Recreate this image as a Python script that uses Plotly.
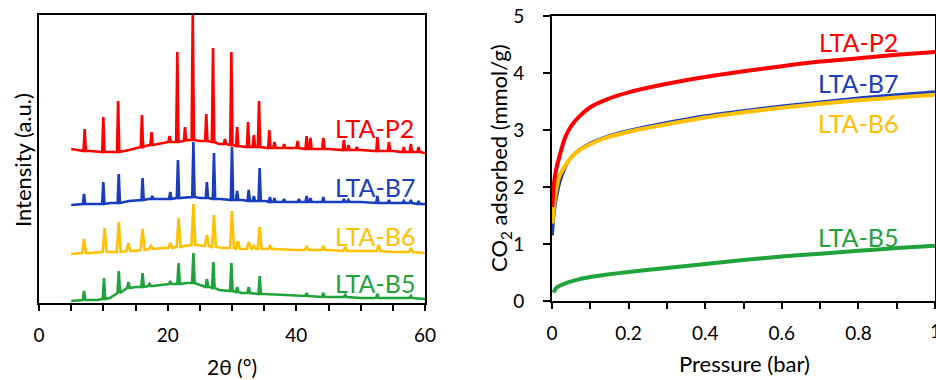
import plotly.graph_objects as go

# ---------------- XRD data (left panel), intensity in arbitrary units ----------------
p2_base_x = [5, 8, 11, 14, 16.5, 18.5, 20, 23, 25, 28, 31, 34, 37, 40, 45, 50, 55, 60]
p2_base_y = [154, 152, 151, 153, 157, 159, 161, 163, 162, 159, 157, 156, 155, 155, 154, 153, 152, 150]
p2_pk_x = [7.1, 10.0, 12.3, 16.0, 17.5, 20.3, 21.5, 22.7, 23.9, 26.0, 27.05, 28.9, 29.9, 30.8, 32.5, 33.4,
           34.2, 35.8, 36.6, 38.1, 40.2, 41.6, 42.2, 44.2, 47.4, 48.1, 49.4, 52.6, 54.4, 56.7, 57.8, 59.0]
p2_pk_top = [174, 186, 202, 188, 171, 167, 251, 176, 292, 189, 255, 164, 251, 176, 181, 168,
             202, 173, 161, 159, 162, 167, 165, 165, 163, 158, 156, 166, 161, 156, 159, 156]
p2_pk_foot = [152, 151, 151, 156, 158, 161, 161, 162, 163, 162, 161, 159, 158, 157, 156, 156,
              156, 155, 155, 155, 155, 154, 154, 154, 153, 153, 153, 152, 152, 151, 151, 151]

b7_base_x = [5, 8, 11, 14, 17, 19, 23, 25, 28.2, 31.7, 35.3, 40, 45, 50, 55, 60]
b7_base_y = [98, 99, 100, 102, 104, 104, 106, 105, 104, 103, 102, 101, 101, 101, 100, 99]
b7_pk_x = [7.0, 10.0, 12.4, 16.1, 17.6, 20.4, 21.6, 24.0, 26.1, 27.2, 30.0, 30.8, 32.6, 33.4, 34.3,
           35.9, 36.6, 38.1, 40.4, 41.6, 42.2, 44.2, 47.4, 48.1, 52.6, 54.4, 56.7, 57.8, 59.0]
b7_pk_top = [109, 121, 129, 125, 107, 111, 143, 161, 121, 150, 156, 112, 113, 107, 135,
             106, 105, 104, 104, 107, 105, 106, 104, 103, 107, 103, 102, 103, 102]
b7_pk_foot = [99, 99, 100, 103, 104, 104, 105, 106, 105, 104, 103, 103, 102, 102, 102,
              101, 101, 101, 101, 101, 101, 101, 101, 101, 100, 100, 100, 100, 99]

b6_base_x = [5, 8, 11, 14.5, 17, 19.5, 22.5, 24.8, 25.5, 28.5, 31.5, 33, 36.5, 40, 45, 50, 55, 60]
b6_base_y = [49, 50, 51, 52, 54, 55, 57, 58, 57, 55, 54, 54, 54, 53, 53, 52, 51, 50]
b6_pk_x = [7.0, 10.2, 12.4, 13.9, 16.1, 17.4, 20.4, 21.7, 24.0, 26.1, 27.2, 30.0, 30.9, 32.6, 33.4,
           34.3, 35.9, 41.6, 44.2, 47.6, 52.8, 57.8]
b6_pk_top = [64, 75, 81, 60, 74, 57, 60, 85, 99, 68, 88, 92, 62, 61, 57, 76, 57, 56, 57, 56, 58, 55]
b6_pk_foot = [50, 51, 51, 52, 53, 54, 55, 56, 58, 57, 56, 55, 54, 54, 54, 54, 54, 53, 53, 52, 52, 51]

b5_base_x = [5, 9, 11, 12.8, 13.5, 15, 17.7, 19, 21, 23, 24.6, 26.6, 28, 31.5, 35, 40, 45, 50, 55, 60]
b5_base_y = [2, 3, 5, 11, 14, 16, 17, 18, 19, 20, 19, 16, 13, 10, 9, 7, 6, 5, 5, 4]
b5_pk_x = [7.0, 10.1, 12.4, 13.9, 16.1, 17.2, 20.4, 21.7, 24.0, 26.1, 27.1, 29.9, 30.8, 32.6, 34.3,
           41.6, 44.2, 47.6, 52.6, 57.8]
b5_pk_top = [12, 25, 32, 21, 30, 19, 22, 40, 50, 24, 41, 40, 16, 16, 27, 10, 10, 8, 9, 7]
b5_pk_foot = [3, 4, 10, 15, 16, 17, 19, 19, 20, 16, 15, 12, 11, 10, 9, 7, 6, 6, 5, 5]

xrd_ticks = [0, 20, 40, 60]
xrd_ticktext = ["0", "20", "40", "60"]

# ---------------- CO2 isotherms (right panel) ----------------
iso_p = [0.001, 0.005, 0.01, 0.02, 0.035, 0.05, 0.07, 0.1, 0.14, 0.2, 0.3, 0.4, 0.5, 0.6, 0.7, 0.8, 0.9, 1.0]
iso_p2 = [1.65, 2.05, 2.28, 2.55, 2.88, 3.07, 3.23, 3.40, 3.53, 3.66, 3.81, 3.93, 4.03, 4.12, 4.20, 4.26, 4.32, 4.37]
iso_b7 = [1.15, 1.50, 1.75, 2.07, 2.35, 2.52, 2.65, 2.77, 2.88, 2.99, 3.13, 3.25, 3.34, 3.42, 3.49, 3.56, 3.62, 3.67]
iso_b6 = [1.36, 1.65, 1.92, 2.20, 2.38, 2.52, 2.64, 2.75, 2.86, 2.97, 3.10, 3.22, 3.31, 3.39, 3.46, 3.52, 3.57, 3.62]
iso_p_b5 = [0.004, 0.013, 0.035, 0.07, 0.1, 0.14, 0.2, 0.3, 0.4, 0.5, 0.6, 0.7, 0.8, 0.9, 1.0]
iso_b5 = [0.15, 0.24, 0.31, 0.38, 0.42, 0.46, 0.51, 0.58, 0.65, 0.72, 0.78, 0.83, 0.88, 0.93, 0.97]

iso_ticks = [0, 0.2, 0.4, 0.6, 0.8]
iso_ticktext = ["0", "0.2", "0.4", "0.6", "0.8"]
iso_last_tick = 1.0
iso_last_text = "1"

RED, BLUE, GOLD, GREEN = "#FF0000", "#1A3CBE", "#FFC000", "#1FA33A"
FONT = "Lato"

W, H = 936, 380
PW = W - 1  # plot width (margin r = 1)


def px_x(p):
    return p / PW


def px_y(p):
    return 1 - p / H


def pattern(bx, by, kx, ktop, kfoot, hw):
    pts = []
    for x, y in zip(bx, by):
        if all(abs(x - k) > hw for k in kx):
            pts.append((x, y))
    for k, t, f in zip(kx, ktop, kfoot):
        pts += [(k - hw, f), (k, t), (k + hw, f)]
    pts.sort(key=lambda q: q[0])
    return [q[0] for q in pts], [q[1] for q in pts]


fig = go.Figure()

for bx, by, kx, kt, kf, col, hw in [
    (b5_base_x, b5_base_y, b5_pk_x, b5_pk_top, b5_pk_foot, GREEN, 0.2),
    (b6_base_x, b6_base_y, b6_pk_x, b6_pk_top, b6_pk_foot, GOLD, 0.3),
    (b7_base_x, b7_base_y, b7_pk_x, b7_pk_top, b7_pk_foot, BLUE, 0.18),
    (p2_base_x, p2_base_y, p2_pk_x, p2_pk_top, p2_pk_foot, RED, 0.18),
]:
    xs, ys = pattern(bx, by, kx, kt, kf, hw)
    fig.add_trace(go.Scatter(x=xs, y=ys, mode="lines", line=dict(color=col, width=2.6),
                             xaxis="x", yaxis="y", showlegend=False, hoverinfo="skip"))

fig.add_trace(go.Scatter(x=iso_p_b5, y=iso_b5, mode="lines", line=dict(color=GREEN, width=4, shape="spline", smoothing=0.8),
                         xaxis="x2", yaxis="y2", showlegend=False))
fig.add_trace(go.Scatter(x=iso_p, y=iso_b7, mode="lines", line=dict(color=BLUE, width=3, shape="spline", smoothing=0.8),
                         xaxis="x2", yaxis="y2", showlegend=False))
fig.add_trace(go.Scatter(x=iso_p, y=iso_b6, mode="lines", line=dict(color=GOLD, width=4, shape="spline", smoothing=0.8),
                         xaxis="x2", yaxis="y2", showlegend=False))
fig.add_trace(go.Scatter(x=iso_p, y=iso_p2, mode="lines", line=dict(color=RED, width=4, shape="spline", smoothing=0.8),
                         xaxis="x2", yaxis="y2", showlegend=False))

axis_common = dict(showgrid=False, zeroline=False, showline=True, linecolor="black", linewidth=2,
                   mirror=True, tickcolor="black", tickwidth=1.5, automargin=False,
                   tickfont=dict(family=FONT, size=19, color="black"))

fig.update_layout(
    width=W, height=H, margin=dict(l=0, r=1, t=0, b=0, autoexpand=False),
    paper_bgcolor="white", plot_bgcolor="white",
    xaxis=dict(domain=[px_x(39), px_x(425)], range=[0, 60], anchor="y",
               tickmode="array", tickvals=xrd_ticks, ticktext=xrd_ticktext,
               ticks="outside", ticklen=6, ticklabelstandoff=8,
               minor=dict(dtick=5, tick0=0, ticks="outside", ticklen=6, tickwidth=1.5, tickcolor="black", showgrid=False),
               **axis_common),
    yaxis=dict(domain=[px_y(303), px_y(15)], range=[0, 288], anchor="x",
               showticklabels=False, ticks="", **axis_common),
    xaxis2=dict(domain=[px_x(552), 1.0], range=[0, 1], anchor="y2",
                tickmode="array", tickvals=iso_ticks, ticktext=iso_ticktext,
                ticks="outside", ticklen=6, ticklabelstandoff=8,
                minor=dict(dtick=0.1, tick0=0, ticks="outside", ticklen=6, tickwidth=1.5, tickcolor="black", showgrid=False),
                **axis_common),
    yaxis2=dict(domain=[px_y(301), px_y(16)], range=[0, 5], anchor="x2",
                tickmode="array", tickvals=[0, 1, 2, 3, 4, 5],
                ticks="outside", ticklen=7, ticklabelstandoff=15, **axis_common),
)

def ann(text, x, y, color="black", size=22, angle=0, xref="paper", yref="paper"):
    fig.add_annotation(text=text, x=x, y=y, xref=xref, yref=yref, showarrow=False,
                       textangle=angle, xanchor="center", yanchor="middle",
                       font=dict(family=FONT, size=size, color=color))

# clipped last tick label of the pressure axis (cut by the figure edge, as in the original)
ann(iso_last_text, iso_last_tick, px_y(330), size=19, xref="x2")

# axis titles
ann("2θ (°)", px_x(232), px_y(366), size=21)
ann("Intensity (a.u.)", px_x(22), px_y(160), angle=-90)
ann("Pressure (bar)", px_x(744), px_y(363))
ann("CO<sub>2</sub> adsorbed (mmol/g)", px_x(500), px_y(158), angle=-90)

# series labels, left
ann("LTA-P2", 52.2, 175, RED, 25, xref="x", yref="y")
ann("LTA-B7", 52.2, 116, BLUE, 25, xref="x", yref="y")
ann("LTA-B6", 52.2, 67.5, GOLD, 25, xref="x", yref="y")
ann("LTA-B5", 52.2, 20, GREEN, 25, xref="x", yref="y")
# series labels, right
ann("LTA-P2", 0.80, 4.54, RED, 25, xref="x2", yref="y2")
ann("LTA-B7", 0.80, 3.82, BLUE, 25, xref="x2", yref="y2")
ann("LTA-B6", 0.80, 3.12, GOLD, 25, xref="x2", yref="y2")
ann("LTA-B5", 0.80, 1.12, GREEN, 25, xref="x2", yref="y2")

fig.write_html("out.html", config={"displayModeBar": False},
               post_script="document.body.style.margin='0';document.body.style.overflow='hidden';")
